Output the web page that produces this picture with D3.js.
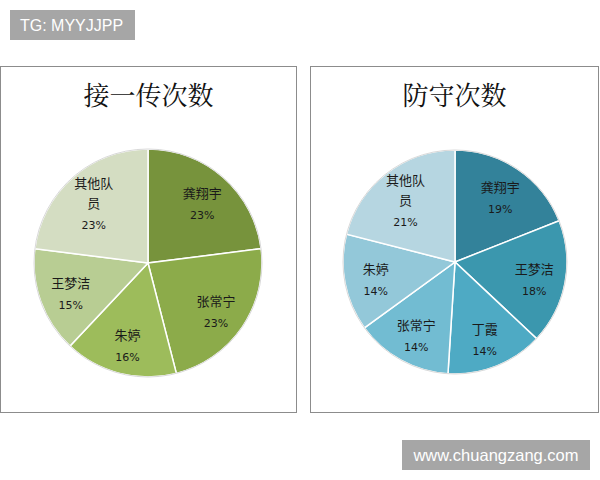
<!DOCTYPE html>
<html>
<head>
<meta charset="utf-8">
<script src="https://cdn.jsdelivr.net/npm/d3@7"></script>
<style>
  body { margin: 0; background: #fff; }
  svg { display: block; }
</style>
</head>
<body>
<div id="chart"></div>
<script>
// data
var receiveNames = ["龚翔宇", "张常宁", "朱婷", "王梦洁", "其他队员"];
var receiveValues = [23, 23, 16, 15, 23];
var receiveColors = ["#77933c", "#8cab4a", "#9dbc5b", "#b8cd93", "#d4ddc2"];

var defendNames = ["龚翔宇", "王梦洁", "丁霞", "张常宁", "朱婷", "其他队员"];
var defendValues = [19, 18, 14, 14, 14, 21];
var defendColors = ["#33829a", "#3b97ae", "#4eaac4", "#72bcd2", "#93c8d9", "#b6d6e1"];

var titles = ["接一传次数", "防守次数"];

var svgWidth = 600;
var svgHeight = 480;

var svg = d3.select("#chart")
  .append("svg")
  .attr("width", svgWidth)
  .attr("height", svgHeight);

// top-left tag
svg.append("rect")
  .attr("x", 10).attr("y", 10)
  .attr("width", 125).attr("height", 30)
  .attr("fill", "#a6a6a6");
svg.append("text")
  .attr("x", 20).attr("y", 31)
  .attr("fill", "#fff")
  .style("font-family", "Liberation Sans, Arial, sans-serif")
  .style("font-size", "16px")
  .text("TG: MYYJJPP");

// bottom-right watermark
svg.append("rect")
  .attr("x", 402).attr("y", 440)
  .attr("width", 188).attr("height", 30)
  .attr("fill", "#a6a6a6");
svg.append("text")
  .attr("x", 496).attr("y", 461)
  .attr("text-anchor", "middle")
  .attr("fill", "#fff")
  .style("font-family", "Liberation Sans, Arial, sans-serif")
  .style("font-size", "16.5px")
  .text("www.chuangzang.com");

var panels = [
  { x: 0.5, y: 66.5, w: 296, h: 346, cx: 148, cy: 263, r: 114,
    names: receiveNames, values: receiveValues, colors: receiveColors, title: titles[0] },
  { x: 310.5, y: 66.5, w: 288, h: 346, cx: 455, cy: 262, r: 112,
    names: defendNames, values: defendValues, colors: defendColors, title: titles[1] }
];

var pie = d3.pie().sort(null).value(d => d);

panels.forEach(function(p) {
  var g = svg.append("g");

  g.append("rect")
    .attr("x", p.x).attr("y", p.y)
    .attr("width", p.w).attr("height", p.h)
    .attr("fill", "#fff")
    .attr("stroke", "#8c8c8c")
    .attr("stroke-width", 1);

  g.append("text")
    .attr("x", p.x + p.w / 2)
    .attr("y", p.y + 38)
    .attr("text-anchor", "middle")
    .style("font-family", "Noto Serif CJK SC, serif, Noto Sans CJK SC")
    .style("font-size", "26px")
    .style("font-weight", "400")
    .attr("fill", "#111")
    .text(p.title);

  var arc = d3.arc().innerRadius(0).outerRadius(p.r);
  var labelArc = d3.arc().innerRadius(p.r * 0.72).outerRadius(p.r * 0.72);

  var pieGroup = g.append("g")
    .attr("transform", `translate(${p.cx}, ${p.cy})`);

  var arcs = pie(p.values);

  pieGroup.selectAll("path")
    .data(arcs)
    .enter()
    .append("path")
    .attr("d", arc)
    .attr("fill", (d, i) => p.colors[i])
    .attr("stroke", "#fff")
    .attr("stroke-width", 1.5);

  // faint rim
  pieGroup.append("circle")
    .attr("r", p.r)
    .attr("fill", "none")
    .attr("stroke", "#d9d9d9")
    .attr("stroke-width", 1);

  var labels = pieGroup.selectAll(".lbl")
    .data(arcs)
    .enter()
    .append("text")
    .attr("class", "lbl")
    .attr("text-anchor", "middle")
    .attr("fill", "#1a1a1a")
    .attr("transform", d => `translate(${labelArc.centroid(d)})`);

  labels.each(function(d, i) {
    var name = p.names[i];
    var lines = name.length > 3 ? [name.slice(0, 3), name.slice(3)] : [name];
    lines.push(p.values[i] + "%");
    var el = d3.select(this);
    var start = -(lines.length - 1) * 10 + 7;
    lines.forEach(function(t, k) {
      var isPct = k === lines.length - 1;
      el.append("tspan")
        .attr("x", 0)
        .attr("y", start + k * 20 + (isPct ? 1 : 0))
        .style("font-family", isPct ? "DejaVu Sans, Verdana, sans-serif" : "Noto Sans CJK SC, sans-serif")
        .style("font-size", isPct ? "11px" : "13px")
        .text(t);
    });
  });
});
</script>
</body>
</html>
